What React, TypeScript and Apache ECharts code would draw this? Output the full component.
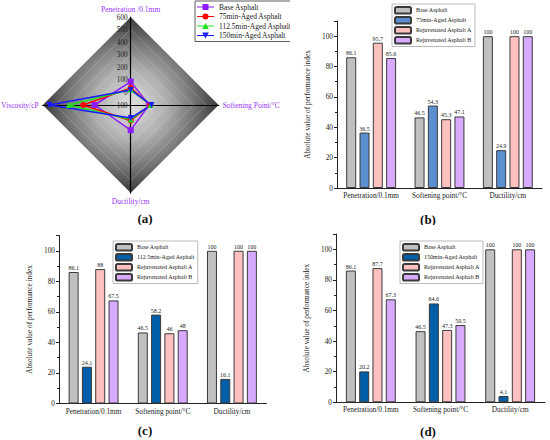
import React, { useEffect, useRef } from "react";
import * as echarts from "echarts";

const SERIF = '"Liberation Serif", "Times New Roman", serif';

// ---------- data ----------
const categories = ["Penetration/0.1mm", "Softening point/°C", "Ductility/cm"];
const baseValues = [86.1, 46.5, 100];

const aged75 = [36.5, 54.3, 24.9];
const rejA75 = [95.7, 45.3, 100];
const rejB75 = [85.6, 47.1, 100];

const aged112 = [24.1, 58.2, 16.1];
const rejA112 = [88, 46, 100];
const rejB112 = [67.5, 48, 100];

const aged150 = [20.2, 64.6, 4.1];
const rejA150 = [87.7, 47.3, 100];
const rejB150 = [67.3, 50.5, 100];

// radar (a)
const radarIndicators = ["Penetration /0.1mm", "Viscosity/cP", "Ductility/cm", "Softening Point/°C"];
const radarNames = ["Base Asphalt", "75min-Aged Asphalt", "112.5min-Aged Asphalt", "150min-Aged Asphalt"];
const viscosity = [187, 278, 392, 547];
const radarTicks = [-100, 600];

const radarColors = ["#8f1cff", "#ff0000", "#1ee01e", "#1a1aff"];

// ---------- panel component ----------
function Panel({ left, top, width, height, option }: any) {
  const ref = useRef<HTMLDivElement>(null);
  useEffect(() => {
    const chart = echarts.init(ref.current as HTMLDivElement, null, { renderer: "svg" });
    chart.setOption(option);
    return () => chart.dispose();
  }, []);
  return <div ref={ref} style={{ position: "absolute", left, top, width, height }} />;
}

function panelLabel(text: string, x: number, y: number) {
  return {
    type: "text",
    x,
    y,
    style: {
      text,
      align: "center",
      verticalAlign: "middle",
      fontSize: 13,
      fontWeight: "bold",
      fontFamily: SERIF,
      fill: "#111",
    },
  };
}

function barOption(
  agedName: string,
  agedColor: string,
  aged: number[],
  rejA: number[],
  rejB: number[],
  grid: any,
  legendLeft: number,
  legendTop: number,
  nameGap: number,
  label: string,
  labelX: number,
  labelY: number
) {
  const defs = [
    { name: "Base Asphalt", color: "#c0c0c0", data: baseValues },
    { name: agedName, color: agedColor, data: aged },
    { name: "Rejuvenated Asphalt A", color: "#ffc0c0", data: rejA },
    { name: "Rejuvenated Asphalt B", color: "#d8aaff", data: rejB },
  ];
  return {
    animation: false,
    textStyle: { fontFamily: SERIF },
    grid,
    legend: {
      orient: "vertical",
      left: legendLeft,
      top: legendTop,
      itemWidth: 16,
      itemHeight: 6.5,
      itemGap: 1.5,
      padding: [2, 3, 2, 2],
      borderColor: "#aaa",
      borderWidth: 0.8,
      backgroundColor: "#fff",
      textStyle: { fontSize: 6, color: "#222", fontFamily: SERIF },
      data: defs.map((d) => d.name),
    },
    xAxis: {
      type: "category",
      data: categories,
      axisLine: { lineStyle: { color: "#222", width: 1 } },
      axisTick: { show: false },
      axisLabel: { interval: 0, fontSize: 7.3, color: "#222", margin: 4, fontFamily: SERIF },
    },
    yAxis: {
      type: "value",
      min: 0,
      max: 110,
      interval: 20,
      name: "Absolute value of performance index",
      nameLocation: "middle",
      nameGap,
      nameTextStyle: { fontSize: 7.3, color: "#222", fontFamily: SERIF },
      axisLine: { show: true, lineStyle: { color: "#222", width: 1 } },
      axisTick: { show: true, length: 3, lineStyle: { color: "#222" } },
      minorTick: { show: true, splitNumber: 2, length: 2, lineStyle: { color: "#222" } },
      splitLine: { show: false },
      axisLabel: { fontSize: 7.3, color: "#222", margin: 4, showMaxLabel: false, fontFamily: SERIF },
    },
    series: defs.map((d) => ({
      type: "bar",
      name: d.name,
      data: d.data,
      barWidth: 10,
      barGap: "33%",
      itemStyle: { color: d.color, borderColor: "#3a3a3a", borderWidth: 1 },
      label: {
        show: true,
        position: "top",
        distance: 1,
        fontSize: 6,
        color: "#222",
        fontFamily: SERIF,
      },
    })),
    graphic: [panelLabel(label, labelX, labelY)],
  };
}

// radar legend icons (line + marker)
const LINE = "M0,2.5 H17 V3.5 H0 Z ";
const radarIcons = [
  "path://" + LINE + "M5.5,0 H11.5 V6 H5.5 Z",
  "path://" + LINE + "M5.5,3 A3,3 0 1,1 11.5,3 A3,3 0 1,1 5.5,3 Z",
  "path://" + LINE + "M8.5,0 L11.8,6 L5.2,6 Z",
  "path://" + LINE + "M5.2,0 L11.8,0 L8.5,6 Z",
];
const radarSymbols = ["rect", "circle", "triangle", "path://M0,0 L10,0 L5,8.66 Z"];

function radarOption() {
  const cx = 130.7;
  const cy = 105;
  const r = 88;
  const grad = new echarts.graphic.RadialGradient(
    cx,
    cy,
    r,
    [
      { offset: 0, color: "#e0e0e0" },
      { offset: 0.4, color: "#b0b0b0" },
      { offset: 0.72, color: "#747474" },
      { offset: 1, color: "#383838" },
    ],
    true
  );
  const rows = [
    [baseValues[0], viscosity[0], baseValues[2], baseValues[1]],
    [aged75[0], viscosity[1], aged75[2], aged75[1]],
    [aged112[0], viscosity[2], aged112[2], aged112[1]],
    [aged150[0], viscosity[3], aged150[2], aged150[1]],
  ];
  return {
    animation: false,
    textStyle: { fontFamily: SERIF },
    legend: {
      orient: "vertical",
      left: 195,
      top: 1,
      itemWidth: 17,
      itemHeight: 6,
      itemGap: 1.5,
      padding: [2, 3, 2, 2],
      borderColor: "#333",
      borderWidth: 0.8,
      backgroundColor: "#fff",
      itemStyle: { borderWidth: 0 },
      textStyle: { fontSize: 7.5, color: "#222", fontFamily: SERIF },
      data: radarNames.map((n, i) => ({ name: n, icon: radarIcons[i] })),
    },
    radar: {
      center: [cx, cy],
      radius: r,
      startAngle: 90,
      shape: "polygon",
      splitNumber: 7,
      nameGap: 4,
      axisName: { color: "#9933ff", fontSize: 7.5, fontFamily: SERIF },
      indicator: radarIndicators.map((n, i) => ({
        name: n,
        min: radarTicks[0],
        max: radarTicks[1],
        axisLabel: i === 0 ? { show: true } : { show: false },
      })),
      axisLine: { lineStyle: { color: "#000", width: 1.2 } },
      axisTick: { show: false },
      axisLabel: { show: false, fontSize: 7.3, color: "#222", margin: 3, fontFamily: SERIF },
      splitLine: { lineStyle: { color: "rgba(255,255,255,0.3)", width: 0.6 } },
      splitArea: { show: true, areaStyle: { color: [grad] } },
    },
    series: [
      {
        type: "radar",
        symbolSize: 6,
        data: rows.map((v, i) => ({
          name: radarNames[i],
          value: v,
          symbol: radarSymbols[i],
          itemStyle: { color: radarColors[i] },
          lineStyle: { color: radarColors[i], width: 1.5 },
        })),
      },
    ],
    graphic: [panelLabel("(a)", 145, 218)],
  };
}

export default function App() {
  useEffect(() => {
    document.body.style.margin = "0";
  }, []);
  return (
    <div style={{ position: "absolute", left: 0, top: 0, width: 550, height: 440, background: "#fff" }}>
      <Panel
        left={275}
        top={0}
        width={275}
        height={225}
        option={barOption(
          "75min-Aged Asphalt",
          "#5b8fcf",
          aged75,
          rejA75,
          rejB75,
          { left: 62, top: 21, width: 205, height: 167 },
          117,
          4,
          22,
          "(b)",
          153,
          219
        )}
      />
      <Panel
        left={0}
        top={215}
        width={275}
        height={225}
        option={barOption(
          "112.5min-Aged Asphalt",
          "#005fa8",
          aged112,
          rejA112,
          rejB112,
          { left: 59, top: 20.5, width: 207.5, height: 168 },
          113,
          26,
          26,
          "(c)",
          145,
          215
        )}
      />
      <Panel
        left={275}
        top={215}
        width={275}
        height={225}
        option={barOption(
          "150min-Aged Asphalt",
          "#005fa8",
          aged150,
          rejA150,
          rejB150,
          { left: 61, top: 19, width: 209, height: 168.3 },
          125,
          26,
          20,
          "(d)",
          153,
          216
        )}
      />
      <Panel left={0} top={0} width={290} height={225} option={radarOption()} />
    </div>
  );
}
